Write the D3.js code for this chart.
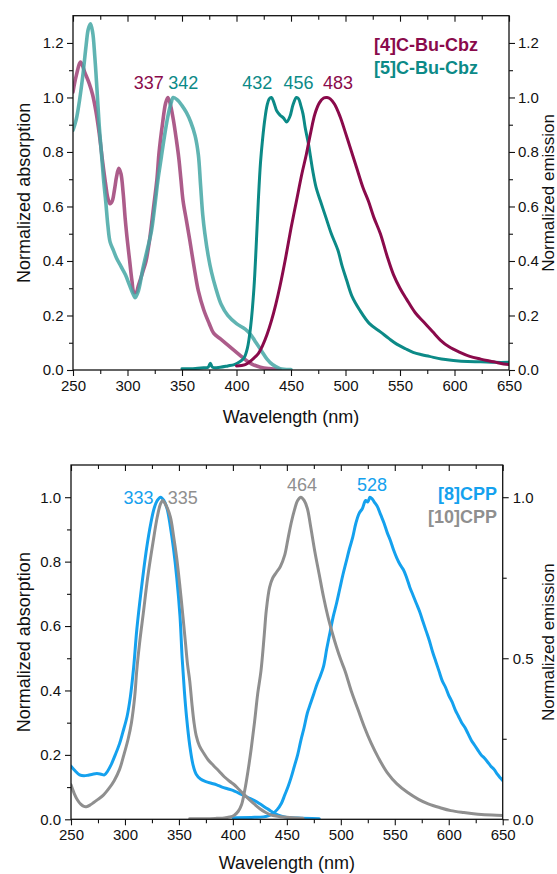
<!DOCTYPE html>
<html><head><meta charset="utf-8">
<script src="https://cdn.jsdelivr.net/npm/d3@7"></script>
<style>
body{margin:0;background:#fff}
svg{display:block}
text{font-family:"Liberation Sans",Arial,Helvetica,sans-serif}
</style>
</head><body>
<svg id="c" width="557" height="874"></svg>
<script>
// ---------- DATA ----------
const xTicks = [250, 300, 350, 400, 450, 500, 550, 600, 650];
const xMinor = [275, 325, 375, 425, 475, 525, 575, 625];
const topYTicks = [0, 0.2, 0.4, 0.6, 0.8, 1.0, 1.2];
const topYMinor = [0.1, 0.3, 0.5, 0.7, 0.9, 1.1];
const botYTicks = [0, 0.2, 0.4, 0.6, 0.8, 1.0];
const botYMinor = [0.1, 0.3, 0.5, 0.7, 0.9];
const botRTicks = [0, 0.5, 1.0];
const botRMinor = [0.25, 0.75];

const seriesTop = ["[4]C-Bu-Cbz", "[5]C-Bu-Cbz"];
const seriesBot = ["[8]CPP", "[10]CPP"];

// [4]C-Bu-Cbz absorption
const abs4 = [[250,1.02],[253,1.08],[257,1.13],[261,1.09],[265,1.05],[268,1.01],[271,0.95],[274,0.87],[277,0.77],[280,0.68],[282,0.63],[284,0.61],[286,0.62],[288,0.66],[290,0.71],[292,0.74],[294,0.72],[296,0.65],[298,0.55],[300,0.47],[302,0.40],[304,0.33],[306,0.285],[308,0.285],[310,0.31],[314,0.36],[317,0.40],[320,0.47],[324,0.60],[327,0.70],[329,0.80],[332,0.90],[335,0.98],[337,1.0],[339,0.98],[342,0.92],[345,0.84],[347,0.78],[349,0.70],[351,0.62],[354,0.55],[357,0.48],[361,0.38],[365,0.29],[370,0.22],[375,0.17],[379,0.135],[385,0.115],[391,0.095],[397,0.075],[403,0.055],[409,0.035],[415,0.02],[422,0.01],[430,0.005],[440,0.002]];
// [5]C-Bu-Cbz absorption
const abs5 = [[250,0.88],[253,0.92],[256,0.99],[259,1.08],[262,1.19],[264,1.25],[266,1.27],[268,1.24],[270,1.15],[272,1.03],[274,0.90],[276,0.80],[278,0.70],[280,0.62],[282,0.53],[284,0.47],[287,0.44],[290,0.41],[294,0.38],[298,0.35],[302,0.31],[305,0.28],[307,0.265],[310,0.29],[314,0.37],[318,0.44],[322,0.51],[325,0.60],[328,0.70],[331,0.78],[334,0.86],[337,0.93],[340,0.98],[342,1.0],[346,0.99],[350,0.97],[354,0.945],[358,0.91],[362,0.86],[365,0.79],[367,0.68],[369,0.57],[371,0.50],[374,0.42],[377,0.36],[381,0.30],[386,0.24],[392,0.20],[400,0.17],[408,0.15],[413,0.13],[418,0.10],[423,0.07],[428,0.04],[433,0.02],[440,0.005],[450,0.002]];
// [5]C-Bu-Cbz emission
const em5 = [[350,0.005],[360,0.005],[370,0.008],[374,0.01],[376,0.025],[378,0.01],[385,0.01],[392,0.015],[398,0.02],[403,0.03],[407,0.045],[410,0.08],[413,0.16],[416,0.30],[418,0.45],[420,0.62],[422,0.76],[424,0.85],[426,0.92],[428,0.97],[430,0.995],[432,1.0],[434,0.985],[437,0.95],[440,0.935],[443,0.925],[446,0.91],[449,0.93],[452,0.975],[455,1.0],[457,0.995],[459,0.97],[461,0.94],[463,0.89],[466,0.83],[468,0.78],[470,0.73],[473,0.67],[477,0.62],[482,0.56],[487,0.50],[493,0.44],[497,0.38],[501,0.33],[506,0.27],[513,0.22],[522,0.17],[532,0.14],[540,0.115],[547,0.095],[555,0.078],[562,0.065],[570,0.056],[577,0.05],[588,0.04],[599,0.035],[612,0.031],[624,0.03],[637,0.028],[650,0.028]];
// [4]C-Bu-Cbz emission
const em4 = [[400,0.015],[408,0.02],[415,0.04],[420,0.06],[424,0.09],[428,0.13],[432,0.18],[436,0.24],[440,0.31],[445,0.41],[450,0.52],[455,0.62],[460,0.72],[464,0.79],[468,0.87],[472,0.94],[476,0.98],[480,0.998],[483,1.0],[486,0.995],[490,0.975],[495,0.93],[500,0.87],[504,0.82],[510,0.745],[516,0.67],[521,0.62],[526,0.56],[532,0.50],[538,0.42],[544,0.35],[550,0.30],[556,0.26],[564,0.21],[572,0.175],[580,0.14],[587,0.11],[595,0.085],[605,0.065],[614,0.05],[624,0.04],[636,0.03],[645,0.022],[650,0.02]];

// [8]CPP absorption
const abs8 = [[250,0.165],[254,0.15],[258,0.138],[262,0.135],[266,0.137],[270,0.14],[274,0.142],[278,0.14],[281,0.138],[284,0.15],[287,0.168],[291,0.2],[295,0.235],[298,0.27],[302,0.32],[305,0.38],[308,0.47],[311,0.59],[315,0.71],[320,0.84],[324,0.92],[327,0.965],[330,0.99],[333,1.0],[336,0.99],[339,0.965],[342,0.91],[345,0.84],[348,0.75],[351,0.63],[353,0.5],[355,0.40],[357,0.32],[360,0.23],[363,0.17],[366,0.14],[370,0.125],[375,0.117],[380,0.112],[385,0.107],[390,0.10],[395,0.095],[400,0.09],[405,0.082],[410,0.074],[415,0.066],[420,0.058],[425,0.048],[430,0.037],[435,0.026],[440,0.016],[445,0.01],[450,0.006],[460,0.004],[480,0.002]];
// [10]CPP absorption
const abs10 = [[250,0.107],[253,0.08],[256,0.06],[259,0.047],[262,0.04],[265,0.04],[268,0.045],[271,0.052],[275,0.062],[280,0.075],[285,0.095],[290,0.12],[295,0.155],[299,0.2],[303,0.25],[306,0.30],[309,0.38],[311,0.465],[314,0.56],[317,0.64],[321,0.75],[326,0.86],[330,0.94],[333,0.98],[335,0.99],[338,0.975],[342,0.94],[345,0.88],[348,0.81],[351,0.72],[354,0.62],[356,0.55],[358,0.48],[360,0.43],[362,0.36],[364,0.30],[366,0.26],[369,0.228],[373,0.205],[377,0.185],[382,0.167],[387,0.15],[392,0.132],[397,0.118],[401,0.108],[405,0.095],[410,0.078],[415,0.062],[420,0.047],[425,0.033],[430,0.022],[435,0.014],[440,0.01],[450,0.006],[465,0.003]];
// [10]CPP emission
const em10 = [[360,0.002],[375,0.002],[385,0.003],[392,0.004],[397,0.007],[401,0.012],[405,0.025],[408,0.045],[411,0.09],[414,0.15],[417,0.22],[420,0.30],[423,0.39],[426,0.46],[429,0.57],[431,0.65],[434,0.72],[437,0.75],[440,0.765],[444,0.785],[448,0.82],[451,0.87],[454,0.92],[457,0.96],[460,0.99],[463,1.0],[466,0.99],[469,0.965],[472,0.91],[476,0.83],[480,0.76],[484,0.69],[488,0.63],[492,0.58],[496,0.535],[500,0.495],[504,0.46],[510,0.395],[516,0.34],[522,0.285],[528,0.237],[535,0.19],[543,0.145],[552,0.11],[562,0.083],[572,0.062],[581,0.048],[592,0.036],[602,0.027],[614,0.021],[627,0.016],[640,0.013],[650,0.012]];
// [8]CPP emission
const em8 = [[400,0.005],[420,0.006],[432,0.01],[437,0.018],[441,0.03],[445,0.05],[448,0.075],[451,0.1],[454,0.13],[457,0.165],[460,0.2],[463,0.245],[466,0.285],[469,0.33],[472,0.36],[475,0.39],[478,0.42],[481,0.445],[484,0.475],[487,0.53],[490,0.58],[493,0.63],[496,0.67],[499,0.715],[502,0.76],[505,0.8],[508,0.84],[511,0.875],[514,0.92],[517,0.95],[520,0.965],[523,0.99],[525,0.985],[527,1.0],[529,0.995],[531,0.985],[534,0.97],[537,0.945],[540,0.92],[543,0.89],[546,0.865],[549,0.835],[552,0.81],[555,0.79],[558,0.775],[561,0.75],[564,0.72],[567,0.695],[570,0.67],[573,0.645],[576,0.615],[579,0.585],[582,0.555],[585,0.52],[588,0.49],[591,0.46],[594,0.43],[597,0.41],[600,0.385],[603,0.365],[606,0.34],[609,0.32],[612,0.3],[615,0.285],[618,0.265],[621,0.245],[624,0.23],[627,0.215],[630,0.2],[633,0.19],[636,0.178],[639,0.165],[642,0.155],[645,0.14],[648,0.128],[650,0.12]];

// peak labels (wavelengths)
const peaksTop = [{v:337, s:0}, {v:342, s:1}, {v:432, s:1}, {v:456, s:1}, {v:483, s:0}];
const peaksBot = [{v:333, s:0}, {v:335, s:1}, {v:464, s:1}, {v:528, s:0}];

// ---------- STYLE ----------
const C = {
  mEm: "#8a0a4b", mAbs: "#9d3f75",
  tEm: "#0c8a87", tAbs: "#44a7a4",
  blue: "#14a1ee", gray: "#8f8f8f"
};
const FONT_TICK = 15, FONT_TITLE = 18, FONT_RTITLE = 17, FONT_PEAK = 18, FONT_LEG = 18;

const svg = d3.select("#c");

function panel(cfg) {
  const x = d3.scaleLinear().domain([250, 650]).range([cfg.l, cfg.r]);
  const y = d3.scaleLinear().domain([0, cfg.yMax]).range([cfg.b, cfg.t]);
  const g = svg.append("g");

  const line = d3.line().x(d => x(d[0])).y(d => y(d[1])).curve(d3.curveCatmullRom.alpha(0.5));
  const clipId = "clip" + cfg.id;
  svg.append("clipPath").attr("id", clipId).append("rect")
    .attr("x", cfg.l).attr("y", cfg.t).attr("width", cfg.r - cfg.l).attr("height", cfg.b - cfg.t);
  const plot = g.append("g").attr("clip-path", `url(#${clipId})`);
  cfg.lines.forEach(s => {
    plot.append("path").datum(s.data).attr("d", line)
      .attr("fill", "none").attr("stroke", s.color).attr("stroke-width", s.w)
      .attr("stroke-opacity", s.op || 1).attr("stroke-linejoin", "round").attr("stroke-linecap", "round");
  });

  const styleAxis = (sel) => {
    sel.select(".domain").remove();
    sel.selectAll("line").attr("stroke", "#111").attr("stroke-width", 1.1);
    sel.selectAll("text").attr("font-size", FONT_TICK).attr("fill", "#111");
  };
  const fmt = d3.format(".1f");
  // bottom
  g.append("g").attr("transform", `translate(0,${cfg.b})`)
    .call(d3.axisBottom(x).tickValues(xTicks).tickSize(6).tickPadding(4).tickFormat(d3.format("d"))).call(styleAxis);
  g.append("g").attr("transform", `translate(0,${cfg.b})`)
    .call(d3.axisBottom(x).tickValues(xMinor).tickSize(4).tickFormat("")).call(styleAxis);
  // top (inward)
  g.append("g").attr("transform", `translate(0,${cfg.t})`)
    .call(d3.axisTop(x).tickValues(xTicks).tickSize(-6).tickFormat("")).call(styleAxis);
  g.append("g").attr("transform", `translate(0,${cfg.t})`)
    .call(d3.axisTop(x).tickValues(xMinor).tickSize(-4).tickFormat("")).call(styleAxis);
  // left
  g.append("g").attr("transform", `translate(${cfg.l},0)`)
    .call(d3.axisLeft(y).tickValues(cfg.yTicks).tickSize(6).tickPadding(cfg.lPad).tickFormat(fmt)).call(styleAxis);
  g.append("g").attr("transform", `translate(${cfg.l},0)`)
    .call(d3.axisLeft(y).tickValues(cfg.yMinor).tickSize(4).tickFormat("")).call(styleAxis);
  // right
  g.append("g").attr("transform", `translate(${cfg.r},0)`)
    .call(d3.axisRight(y).tickValues(cfg.rTicks).tickSize(6).tickPadding(cfg.rPad).tickFormat(fmt)).call(styleAxis);
  g.append("g").attr("transform", `translate(${cfg.r},0)`)
    .call(d3.axisRight(y).tickValues(cfg.rMinor).tickSize(4).tickFormat("")).call(styleAxis);

  // frame
  g.append("rect").attr("x", cfg.l).attr("y", cfg.t).attr("width", cfg.r - cfg.l).attr("height", cfg.b - cfg.t)
    .attr("fill", "none").attr("stroke", "#111").attr("stroke-width", 1.3);

  // titles
  g.append("text").attr("x", (cfg.l + cfg.r) / 2).attr("y", cfg.xTitleY).attr("text-anchor", "middle")
    .attr("font-size", FONT_TITLE).attr("fill", "#111").text("Wavelength (nm)");
  g.append("text").attr("transform", `translate(${cfg.lTitleX},${(cfg.t + cfg.b) / 2}) rotate(-90)`)
    .attr("text-anchor", "middle").attr("font-size", FONT_TITLE).attr("fill", "#111").text("Normalized absorption");
  g.append("text").attr("transform", `translate(${cfg.rTitleX},${(cfg.t + cfg.b) / 2}) rotate(-90)`)
    .attr("text-anchor", "middle").attr("font-size", FONT_RTITLE).attr("fill", "#111").text("Normalized emission");

  // peak labels
  cfg.peaks.forEach((p, i) => {
    const lay = cfg.peakLayout[i];
    g.append("text").attr("x", x(p.v) + lay.dx).attr("y", y(1.0) + lay.dy)
      .attr("text-anchor", lay.a).attr("font-size", FONT_PEAK).attr("fill", cfg.colors[p.s]).text(p.v);
  });

  // legend
  cfg.names.forEach((n, i) => {
    g.append("text").attr("x", cfg.legX).attr("y", cfg.legY + i * 23).attr("text-anchor", cfg.legA)
      .attr("font-size", FONT_LEG).attr("font-weight", "bold").attr("fill", cfg.colors[i]).text(n);
  });
}

panel({
  id: "top", l: 73, r: 509, t: 15.7, b: 370, yMax: 1.3,
  yTicks: topYTicks, yMinor: topYMinor, rTicks: topYTicks, rMinor: topYMinor,
  lPad: 3.5, rPad: 3,
  lines: [
    {data: abs4, color: C.mAbs, w: 3.6, op: 0.85},
    {data: abs5, color: C.tAbs, w: 3.6, op: 0.85},
    {data: em5, color: C.tEm, w: 3},
    {data: em4, color: C.mEm, w: 3}
  ],
  colors: [C.mEm, C.tEm],
  names: seriesTop,
  peaks: peaksTop,
  peakLayout: [{dx: -4, dy: -8, a: "end"}, {dx: -5, dy: -8, a: "start"}, {dx: 1, dy: -8, a: "end"}, {dx: 1, dy: -8, a: "middle"}, {dx: -4, dy: -8, a: "start"}],
  legX: 374, legY: 51, legA: "start",
  xTitleY: 423, lTitleX: 30, rTitleX: 553.5
});

panel({
  id: "bot", l: 71, r: 502.7, t: 465, b: 819.3, yMax: 1.1,
  yTicks: botYTicks, yMinor: botYMinor, rTicks: botRTicks, rMinor: botRMinor,
  lPad: 4, rPad: 4,
  lines: [
    {data: abs8, color: C.blue, w: 3},
    {data: em8, color: C.blue, w: 3},
    {data: abs10, color: C.gray, w: 3},
    {data: em10, color: C.gray, w: 3}
  ],
  colors: [C.blue, C.gray],
  names: seriesBot,
  peaks: peaksBot,
  peakLayout: [{dx: -7, dy: 7, a: "end"}, {dx: 5, dy: 7, a: "start"}, {dx: 0, dy: -6, a: "middle"}, {dx: 1, dy: -6, a: "middle"}],
  legX: 497, legY: 500, legA: "end",
  xTitleY: 869, lTitleX: 30, rTitleX: 553.5
});
</script>
</body></html>
